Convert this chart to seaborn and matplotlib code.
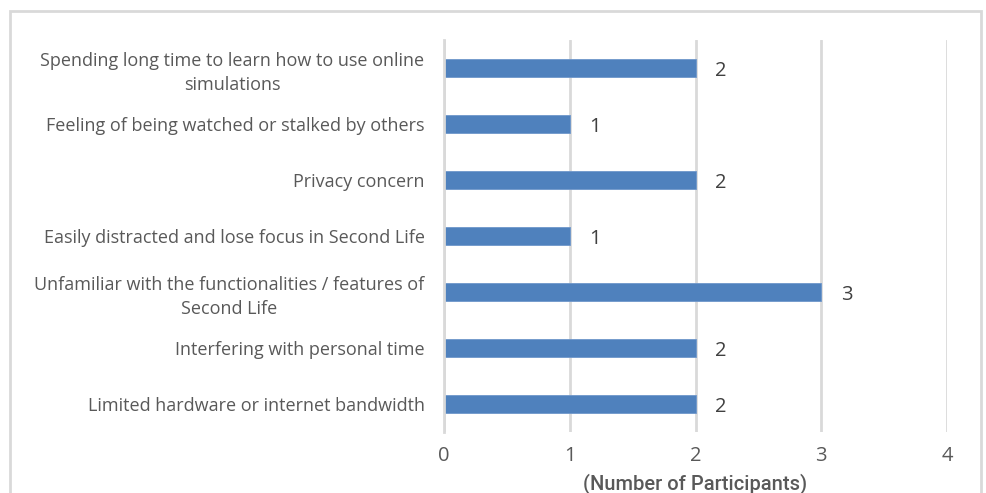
import matplotlib
matplotlib.use("Agg")
import matplotlib.pyplot as plt
import seaborn as sns
import pandas as pd
from matplotlib.patches import Rectangle

categories = [
    "Spending long time to learn how to use online\nsimulations",
    "Feeling of being watched or stalked by others",
    "Privacy concern",
    "Easily distracted and lose focus in Second Life",
    "Unfamiliar with the functionalities / features of\nSecond Life",
    "Interfering with personal time",
    "Limited hardware or internet bandwidth",
]
participants = [2, 1, 2, 1, 3, 2, 2]
x_ticks = [0, 1, 2, 3, 4]
x_label = "(Number of Participants)"

df = pd.DataFrame({"issue": categories, "count": participants})

sns.set_theme(style="white")
plt.rcParams["font.family"] = ["Open Sans", "DejaVu Sans"]

fig = plt.figure(figsize=(9.86, 4.93), dpi=100)
ax = fig.add_axes([444 / 986, 1 - 432 / 493, (947 - 444) / 986, (432 - 40) / 493])

sns.barplot(data=df, y="issue", x="count", orient="h", color="#4F81BD",
            saturation=1, width=0.32, ax=ax, edgecolor="#6F97CB", linewidth=0.6)

ax.set_xlim(0, 4)
ax.set_ylim(6.5, -0.5)
ax.set_xticks(x_ticks)
ax.set_xticklabels([str(t) for t in x_ticks], fontsize=14.5, color="#595959")
ax.grid(axis="x", color="#d9d9d9", linewidth=2)
ax.set_axisbelow(True)
for s in ["top", "right", "bottom"]:
    ax.spines[s].set_visible(False)
ax.spines["left"].set_color("#d9d9d9")
ax.spines["left"].set_linewidth(2)
ax.tick_params(axis="both", length=0)
ax.tick_params(axis="y", pad=14, labelsize=13, labelcolor="#595959")
ax.tick_params(axis="x", pad=10)
for lbl in ax.get_yticklabels():
    lbl.set_multialignment("center")
    lbl.set_linespacing(1.4)
ax.set_ylabel("")
ax.set_xlabel(x_label, fontsize=14.5, color="#595959", labelpad=5,
              family=["Roboto", "DejaVu Sans"], fontweight="medium")

for cont in ax.containers:
    texts = ax.bar_label(cont, labels=[str(v) for v in participants], padding=14,
                         fontsize=14.5, color="#404040")
    for t in texts:
        t.set_va("center_baseline")

fig.patches.append(Rectangle((9.5 / 986, -0.02), (981 - 9.5) / 986, 1 - 11 / 493 + 0.02,
                             transform=fig.transFigure, fill=False,
                             edgecolor="#d9d9d9", linewidth=2))

fig.savefig("out.png", dpi=100, facecolor="white")
